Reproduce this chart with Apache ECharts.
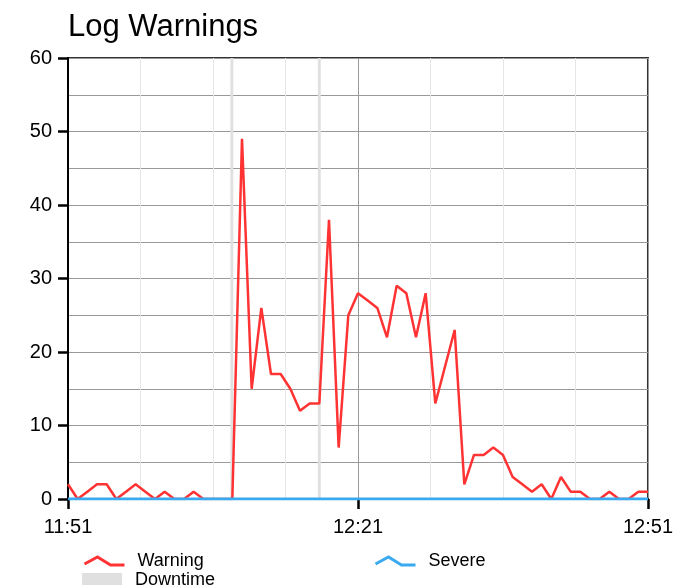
<!DOCTYPE html>
<html>
<head>
<meta charset="utf-8">
<script src="https://cdn.jsdelivr.net/npm/echarts@6/dist/echarts.min.js"></script>
<style>
  html, body { margin: 0; padding: 0; background: #fff; }
  #chart { width: 676px; height: 585px; }
</style>
</head>
<body>
<div id="chart"></div>
<script>
// one sample per minute, starting at 11:51
const startHour = 11
const startMinute = 51
const warning = [2, 0, 1, 2, 2, 0, 1, 2, 1, 0, 1, 0, 0, 1, 0, 0, 0, 0, 49, 15,
  26, 17, 17, 15, 12, 13, 13, 38, 7, 25, 28, 27, 26, 22, 29, 28, 22, 28, 13, 18,
  23, 2, 6, 6, 7, 6, 3, 2, 1, 2, 0, 3, 1, 1, 0, 0, 1, 0, 0, 1, 1]
const severe = [0, 0, 0, 0, 0, 0, 0, 0, 0, 0, 0, 0, 0, 0, 0, 0, 0, 0, 0, 0,
  0, 0, 0, 0, 0, 0, 0, 0, 0, 0, 0, 0, 0, 0, 0, 0, 0, 0, 0, 0,
  0, 0, 0, 0, 0, 0, 0, 0, 0, 0, 0, 0, 0, 0, 0, 0, 0, 0, 0, 0, 0]
// downtime windows, minutes after start
const downtimeStart = [16.8, 25.85]
const downtimeEnd = [17.1, 26.15]
const yTicks = [0, 10, 20, 30, 40, 50, 60]

function timeLabel (m) {
  let total = startHour * 60 + startMinute + m
  let h = Math.floor(total / 60)
  let mm = total % 60
  return h + ':' + (mm < 10 ? '0' + mm : mm)
}

let myChart = echarts.init(document.getElementById('chart'))
const font = 'Liberation Sans, Arial, sans-serif'
const warnIcon = 'path://M0,7 L13,0 L26,8 L40,8'

myChart.setOption({
  animation: false,
  backgroundColor: '#fff',
  textStyle: { fontFamily: font },
  title: {
    text: 'Log Warnings',
    left: 63,
    top: 7,
    textStyle: { fontSize: 31, fontWeight: 'normal', color: '#000', fontFamily: font }
  },
  grid: {
    left: 68,
    right: 26,
    top: 58,
    bottom: 86,
    show: true,
    borderColor: '#333',
    borderWidth: 2
  },
  legend: [
    {
      data: [{ name: 'Warning', icon: warnIcon, itemStyle: { color: 'none', borderColor: '#ff3333', borderWidth: 3 } }],
      left: 77,
      top: 547,
      itemWidth: 40,
      itemHeight: 9,
      textStyle: { fontSize: 18, color: '#000', padding: [0, 0, 0, 8] }
    },
    {
      data: [{ name: 'Severe', icon: warnIcon, itemStyle: { color: 'none', borderColor: '#3aaaf0', borderWidth: 3 } }],
      left: 368,
      top: 547,
      itemWidth: 40,
      itemHeight: 9,
      textStyle: { fontSize: 18, color: '#000', padding: [0, 0, 0, 8] }
    },
    {
      data: [{ name: 'Downtime', icon: 'rect' }],
      left: 77,
      top: 566,
      itemWidth: 40,
      itemHeight: 14,
      textStyle: { fontSize: 18, color: '#000', padding: [0, 0, 0, 8] }
    }
  ],
  xAxis: {
    type: 'value',
    min: 0,
    max: 60,
    interval: 30,
    axisLine: { show: true, lineStyle: { color: '#000', width: 2 } },
    axisTick: { show: true, length: 10, lineStyle: { color: '#000', width: 2.5 } },
    axisLabel: {
      color: '#000',
      fontSize: 20,
      margin: 18,
      formatter: function (v) { return timeLabel(v) }
    },
    splitLine: { show: true, lineStyle: { color: '#999', width: 1 } },
    minorTick: { show: false, splitNumber: 4 },
    minorSplitLine: { show: true, lineStyle: { color: '#e6e6e6', width: 1 } }
  },
  yAxis: {
    type: 'value',
    min: 0,
    max: 60,
    interval: 10,
    axisLine: { show: true, lineStyle: { color: '#000', width: 2 } },
    axisTick: { show: true, length: 10, lineStyle: { color: '#000', width: 2.5 } },
    axisLabel: {
      color: '#000',
      fontSize: 20,
      margin: 16,
      formatter: function (v) { return yTicks.indexOf(v) >= 0 ? String(v) : '' }
    },
    splitLine: { show: true, lineStyle: { color: '#999', width: 1 } },
    minorTick: { show: false, splitNumber: 2 },
    minorSplitLine: { show: true, lineStyle: { color: '#999', width: 1 } }
  },
  series: [
    {
      name: 'Downtime',
      type: 'line',
      data: [],
      color: '#e0e0e0',
      silent: true,
      markArea: {
        silent: true,
        itemStyle: { color: '#e0e0e0' },
        data: downtimeStart.map((s, i) => [{ xAxis: s }, { xAxis: downtimeEnd[i] }])
      }
    },
    {
      name: 'Warning',
      type: 'line',
      data: warning.map((v, i) => [i, v]),
      color: '#ff3333',
      showSymbol: false,
      symbol: 'none',
      lineStyle: { color: '#ff3333', width: 2.5 }
    },
    {
      name: 'Severe',
      type: 'line',
      data: severe.map((v, i) => [i, v]),
      color: '#3aaaf0',
      showSymbol: false,
      symbol: 'none',
      lineStyle: { color: '#3aaaf0', width: 3 }
    }
  ]
})
</script>
</body>
</html>
